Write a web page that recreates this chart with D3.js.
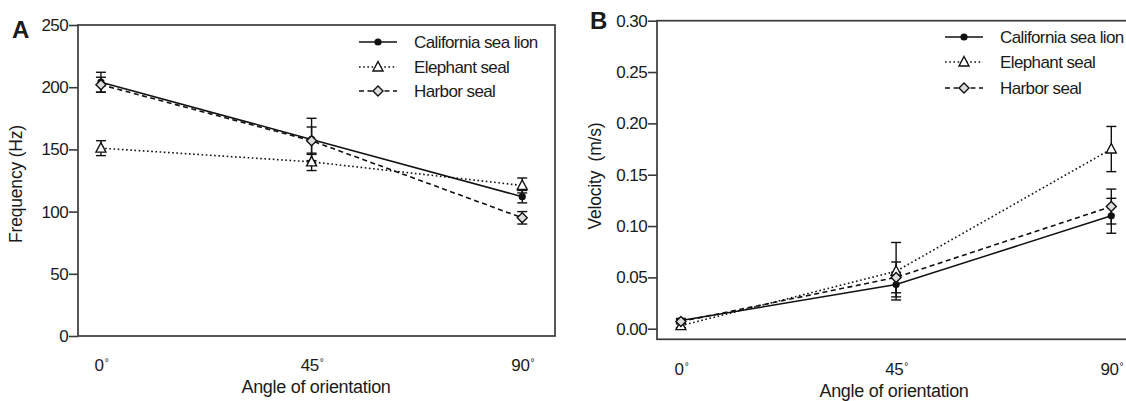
<!DOCTYPE html>
<html><head><meta charset="utf-8">
<script src="https://cdn.jsdelivr.net/npm/d3@7"></script>
<style>
body{margin:0;background:#fff;}
text{font-family:"Liberation Sans",Arial,sans-serif;fill:#1a1a1a;}
</style></head>
<body><svg id="c" width="1126" height="401"></svg>
<script>
// ---- data ----
const angles = [0, 45, 90];
const seriesNames = ["California sea lion", "Elephant seal", "Harbor seal"];
const freqSeaLion = [204, 158, 112];
const freqSeaLionErr = [8, 17, 5];
const freqElephant = [151, 140, 121];
const freqElephantErr = [6, 7, 6];
const freqHarbor = [202, 157, 95];
const freqHarborErr = [6, 11, 5];
const velSeaLion = [0.008, 0.043, 0.110];
const velSeaLionErr = [0.002, 0.012, 0.017];
const velElephant = [0.003, 0.056, 0.175];
const velElephantErr = [0.002, 0.028, 0.022];
const velHarbor = [0.007, 0.050, 0.119];
const velHarborErr = [0.002, 0.015, 0.017];
const freqTicks = [0, 50, 100, 150, 200, 250];
const velTicks = [0, 0.05, 0.10, 0.15, 0.20, 0.25, 0.30];

const styles = [
  {dash: null, marker: "circle"},
  {dash: "1.6,2.6", marker: "triangle"},
  {dash: "5,3.5", marker: "diamond"}
];
const FONT = '"Liberation Sans",Arial,sans-serif';

const svg = d3.select("#c");

function marker(g, type, x, y) {
  if (type === "circle") {
    g.append("circle").attr("cx", x).attr("cy", y).attr("r", 3.6).attr("fill", "#111");
  } else if (type === "triangle") {
    g.append("path").attr("d", `M${x},${y-5.5}L${x+5},${y+4}L${x-5},${y+4}Z`)
      .attr("fill", "#fff").attr("stroke", "#111").attr("stroke-width", 1.4);
  } else {
    g.append("path").attr("d", `M${x},${y-5}L${x+5},${y}L${x},${y+5}L${x-5},${y}Z`)
      .attr("fill", "#ddd").attr("stroke", "#111").attr("stroke-width", 1.4);
  }
}

function panel(cfg) {
  const g = svg.append("g");
  const x = d3.scaleLinear().domain(cfg.xDomain).range(cfg.xRange);
  const y = d3.scaleLinear().domain(cfg.yDomain).range(cfg.yRange);
  // frame
  g.append("rect").attr("x", cfg.xRange[0]).attr("y", cfg.yRange[1])
    .attr("width", cfg.xRange[1] - cfg.xRange[0]).attr("height", cfg.yRange[0] - cfg.yRange[1])
    .attr("fill", "none").attr("stroke", "#3a3a3a").attr("stroke-width", 1.7);
  // y axis
  const ya = g.append("g").attr("transform", `translate(${cfg.xRange[0]},0)`)
    .call(d3.axisLeft(y).tickValues(cfg.yTicks).tickFormat(cfg.yFormat).tickSize(9).tickPadding(1));
  ya.select(".domain").remove();
  ya.selectAll(".tick line").attr("stroke", "#3a3a3a").attr("stroke-width", 1.6);
  ya.selectAll(".tick text").style("font-size", "17px").attr("fill", "#1a1a1a")
    .style("font-family", FONT).style("letter-spacing", "-0.6px");
  // x axis labels
  const xa = g.append("g").attr("transform", `translate(0,${cfg.yRange[0]})`)
    .call(d3.axisBottom(x).tickValues(angles).tickSize(0).tickPadding(cfg.xPad).tickFormat(""));
  xa.select(".domain").remove();
  xa.selectAll(".tick text").each(function(d) {
    const t = d3.select(this).style("font-size", "17px").attr("fill", "#1a1a1a")
      .style("font-family", FONT).style("letter-spacing", "-0.4px");
    t.append("tspan").text(d);
    t.append("tspan").text("°").attr("dx", "1").attr("dy", "-0.55em").style("font-size", "10px");
  });
  // axis titles
  g.append("text").attr("x", cfg.xTitleX).attr("y", cfg.xTitleY).attr("text-anchor", "middle")
    .style("font-size", "18px").style("letter-spacing", "-0.3px").text("Angle of orientation");
  g.append("text").attr("transform", `translate(${cfg.yTitleX},${cfg.yTitleY}) rotate(-90)`)
    .attr("text-anchor", "middle").attr("dy", "0.35em")
    .style("font-size", "17.5px").style("letter-spacing", "-0.2px").style("white-space", "pre")
    .text(cfg.yTitle);
  // panel letter
  g.append("text").attr("x", cfg.letterX).attr("y", cfg.letterY)
    .style("font-size", "24px").style("font-weight", "bold").attr("fill", "#000").text(cfg.letter);

  const plot = g.append("g");
  cfg.series.forEach((s, i) => {
    const pts = angles.map((a, j) => ({a, v: s.v[j], e: s.e[j]}));
    const line = d3.line().x(d => x(d.a)).y(d => y(d.v));
    const p = plot.append("path").datum(pts).attr("d", line).attr("fill", "none")
      .attr("stroke", "#111").attr("stroke-width", i === 0 ? 1.5 : 1.6);
    if (styles[i].dash) p.attr("stroke-dasharray", styles[i].dash);
  });
  cfg.series.forEach((s, i) => {
    angles.forEach((a, j) => {
      const cx = x(a), y1 = y(s.v[j] + s.e[j]), y2 = y(s.v[j] - s.e[j]);
      plot.append("line").attr("x1", cx).attr("x2", cx).attr("y1", y1).attr("y2", y2)
        .attr("stroke", "#111").attr("stroke-width", 1.4);
      [y1, y2].forEach(yy => plot.append("line").attr("x1", cx - 5).attr("x2", cx + 5)
        .attr("y1", yy).attr("y2", yy).attr("stroke", "#111").attr("stroke-width", 1.4));
    });
  });
  cfg.series.forEach((s, i) => {
    angles.forEach((a, j) => marker(plot, styles[i].marker, x(a), y(s.v[j])));
  });
  // legend
  const lg = g.append("g");
  seriesNames.forEach((n, i) => {
    const yy = cfg.legY[i];
    const l = lg.append("line").attr("x1", cfg.legX).attr("x2", cfg.legX + 38)
      .attr("y1", yy).attr("y2", yy).attr("stroke", "#111").attr("stroke-width", 1.5);
    if (styles[i].dash) l.attr("stroke-dasharray", styles[i].dash);
    marker(lg, styles[i].marker, cfg.legX + 19, yy);
    lg.append("text").attr("x", cfg.legX + 55).attr("y", yy).attr("dy", "0.36em")
      .style("font-size", "17px").style("letter-spacing", "-0.6px").text(n);
  });
}

panel({
  xDomain: [-4.9, 97], xRange: [78, 555],
  yDomain: [0, 250], yRange: [336, 25],
  yTicks: freqTicks, yFormat: d3.format("d"),
  xPad: 23, xTitleX: 316, xTitleY: 393,
  yTitle: "Frequency (Hz)", yTitleX: 16, yTitleY: 184,
  letter: "A", letterX: 12, letterY: 38,
  series: [
    {v: freqSeaLion, e: freqSeaLionErr},
    {v: freqElephant, e: freqElephantErr},
    {v: freqHarbor, e: freqHarborErr}
  ],
  legX: 359, legY: [42, 67, 91]
});

panel({
  xDomain: [-5, 96], xRange: [657, 1140],
  yDomain: [-0.0103, 0.30], yRange: [339.3, 20.7],
  yTicks: velTicks, yFormat: d3.format(".2f"),
  xPad: 24, xTitleX: 894, xTitleY: 397,
  yTitle: "Velocity  (m/s)", yTitleX: 595, yTitleY: 176,
  letter: "B", letterX: 590, letterY: 29,
  series: [
    {v: velSeaLion, e: velSeaLionErr},
    {v: velElephant, e: velElephantErr},
    {v: velHarbor, e: velHarborErr}
  ],
  legX: 945, legY: [37, 62, 88]
});
</script></body></html>
